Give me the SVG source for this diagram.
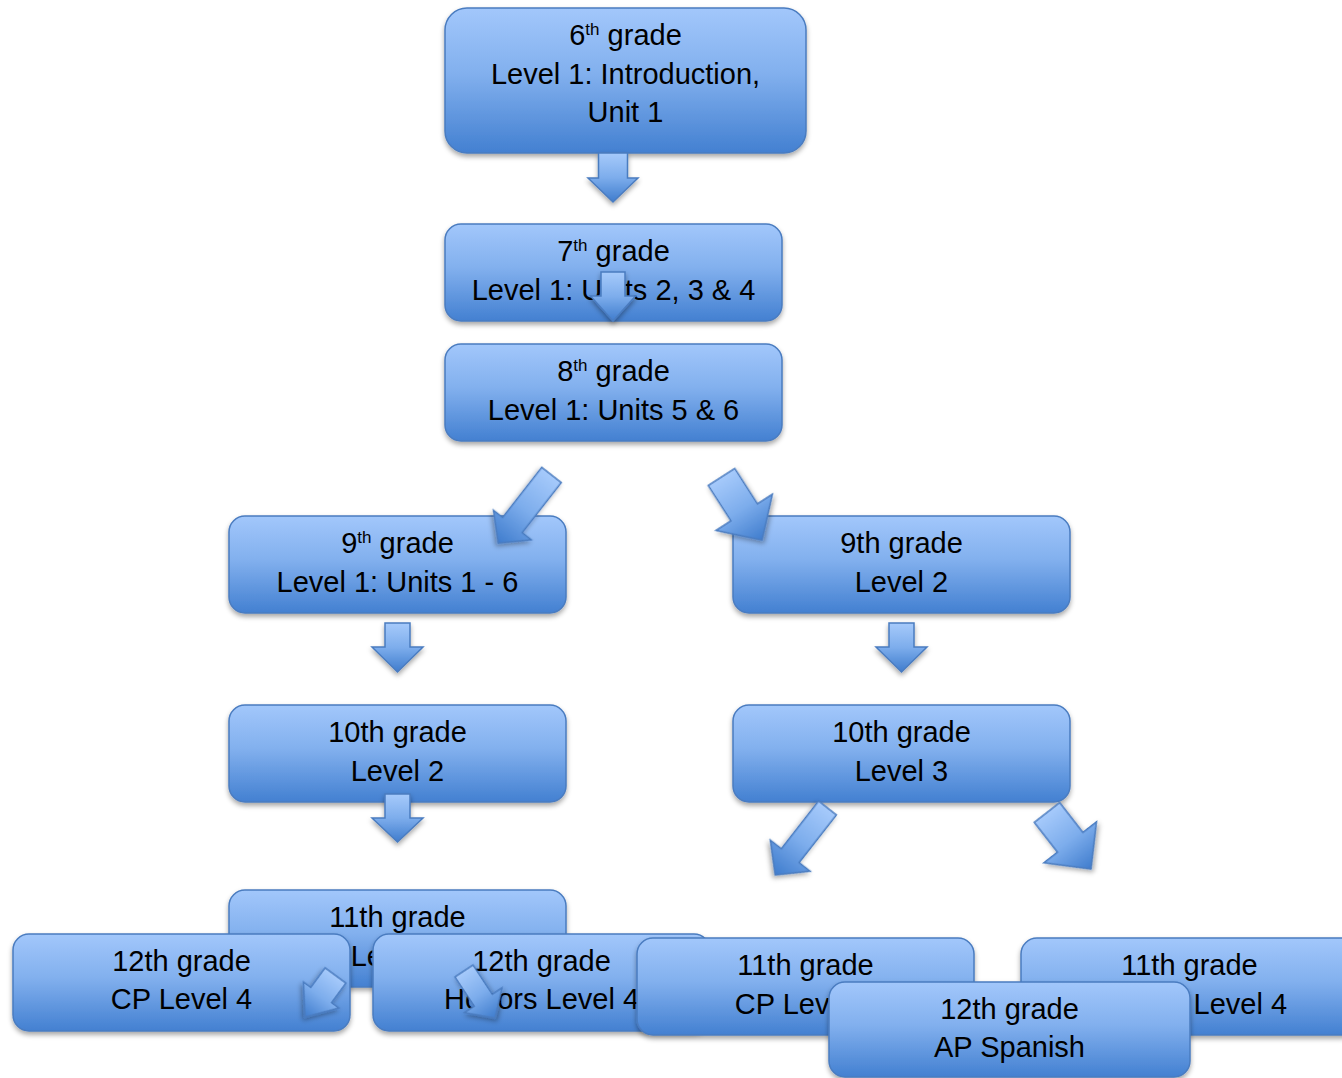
<svg xmlns="http://www.w3.org/2000/svg" width="1342" height="1078" viewBox="0 0 1342 1078">
<defs>
  <linearGradient id="boxGrad" x1="0" y1="0" x2="0" y2="1">
    <stop offset="0" stop-color="#A2C7FB"/>
    <stop offset="0.45" stop-color="#82B0EE"/>
    <stop offset="1" stop-color="#4380D1"/>
  </linearGradient>
  <linearGradient id="arrGrad" x1="0" y1="0" x2="0" y2="1">
    <stop offset="0" stop-color="#A6CAFB"/>
    <stop offset="0.5" stop-color="#7DADEC"/>
    <stop offset="1" stop-color="#3F7CCD"/>
  </linearGradient>
  <filter id="shadow" x="-10%" y="-10%" width="120%" height="130%">
    <feDropShadow dx="0" dy="3" stdDeviation="2.5" flood-color="#000" flood-opacity="0.35"/>
  </filter>
</defs>
<style>
  .box { fill: url(#boxGrad); stroke: #4A7CC0; stroke-width: 1.5; filter: url(#shadow); }
  .arr { fill: url(#arrGrad); stroke: #4A7CC0; stroke-width: 1.5; stroke-linejoin: miter; filter: url(#shadow); }
  .t { font-family: "Liberation Sans", Arial, sans-serif; font-size: 29px; fill: #000; text-anchor: middle; }
  .sup { font-size: 17px; }
</style>
<rect width="1342" height="1078" fill="#FFFFFF"/>

<g id="n6">
  <rect class="box" x="445" y="8" width="361" height="145" rx="22"/>
  <text class="t" x="625.5" y="45">6<tspan class="sup" dy="-10">th</tspan><tspan dy="10"> grade</tspan></text>
  <text class="t" x="625.5" y="84">Level 1: Introduction,</text>
  <text class="t" x="625.5" y="122">Unit 1</text>
</g>
<g id="n7">
  <rect class="box" x="445" y="224" width="337" height="97" rx="16"/>
  <text class="t" x="613.5" y="261">7<tspan class="sup" dy="-10">th</tspan><tspan dy="10"> grade</tspan></text>
  <text class="t" x="613.5" y="300">Level 1: Units 2, 3 &amp; 4</text>
</g>
<g id="n8">
  <rect class="box" x="445" y="344" width="337" height="97" rx="16"/>
  <text class="t" x="613.5" y="381">8<tspan class="sup" dy="-10">th</tspan><tspan dy="10"> grade</tspan></text>
  <text class="t" x="613.5" y="420">Level 1: Units 5 &amp; 6</text>
</g>
<g id="n9L">
  <rect class="box" x="229" y="516" width="337" height="97" rx="16"/>
  <text class="t" x="397.5" y="553">9<tspan class="sup" dy="-10">th</tspan><tspan dy="10"> grade</tspan></text>
  <text class="t" x="397.5" y="592">Level 1: Units 1 - 6</text>
</g>
<g id="n9R">
  <rect class="box" x="733" y="516" width="337" height="97" rx="16"/>
  <text class="t" x="901.5" y="553">9th grade</text>
  <text class="t" x="901.5" y="592">Level 2</text>
</g>
<g id="n10L">
  <rect class="box" x="229" y="705" width="337" height="97" rx="16"/>
  <text class="t" x="397.5" y="742">10th grade</text>
  <text class="t" x="397.5" y="781">Level 2</text>
</g>
<g id="n10R">
  <rect class="box" x="733" y="705" width="337" height="97" rx="16"/>
  <text class="t" x="901.5" y="742">10th grade</text>
  <text class="t" x="901.5" y="781">Level 3</text>
</g>
<g id="n11L">
  <rect class="box" x="229" y="890" width="337" height="97" rx="16"/>
  <text class="t" x="397.5" y="927">11th grade</text>
  <text class="t" x="397.5" y="966">Level 3</text>
</g>
<g id="n12CP">
  <rect class="box" x="13" y="934" width="337" height="97" rx="16"/>
  <text class="t" x="181.5" y="971">12th grade</text>
  <text class="t" x="181.5" y="1009">CP Level 4</text>
</g>
<g id="n12H">
  <rect class="box" x="373" y="934" width="337" height="97" rx="16"/>
  <text class="t" x="541.5" y="971">12th grade</text>
  <text class="t" x="541.5" y="1009">Honors Level 4</text>
</g>
<g id="n11CP">
  <rect class="box" x="637" y="938" width="337" height="97" rx="16"/>
  <text class="t" x="805.5" y="975">11th grade</text>
  <text class="t" x="805.5" y="1014">CP Level 4</text>
</g>
<g id="n11H">
  <rect class="box" x="1021" y="938" width="337" height="97" rx="16"/>
  <text class="t" x="1189.5" y="975">11th grade</text>
  <text class="t" x="1189.5" y="1014">Honors Level 4</text>
</g>

<g id="connectors">
  <path class="arr" transform="translate(613,153)" d="M-14.5 0 L14.5 0 L14.5 25 L25 25 L0 49 L-25 25 L-14.5 25 Z"/>
  <path class="arr" transform="translate(613,272)" d="M-12 0 L12 0 L12 24 L22.5 24 L0 49 L-22.5 24 L-12 24 Z"/>
  <path class="arr" transform="translate(551.5,475) rotate(38)" d="M-12.4 0 L12.4 0 L12.4 63.5 L24 63.5 L0 86.5 L-24 63.5 L-12.4 63.5 Z"/>
  <path class="arr" transform="translate(721.5,477) rotate(-32.7)" d="M-15.7 0 L15.7 0 L15.7 42 L33.5 42 L0 75 L-33.5 42 L-15.7 42 Z"/>
  <path class="arr" transform="translate(397.5,623)" d="M-12.5 0 L12.5 0 L12.5 24 L25.5 24 L0 49 L-25.5 24 L-12.5 24 Z"/>
  <path class="arr" transform="translate(901.5,623)" d="M-12.5 0 L12.5 0 L12.5 24 L25.5 24 L0 49 L-25.5 24 L-12.5 24 Z"/>
  <path class="arr" transform="translate(397.5,794)" d="M-12.5 0 L12.5 0 L12.5 24 L25.5 24 L0 48 L-25.5 24 L-12.5 24 Z"/>
  <path class="arr" transform="translate(827.5,808) rotate(38)" d="M-11.3 0 L11.3 0 L11.3 60.4 L25.3 60.4 L0 85 L-25.3 60.4 L-11.3 60.4 Z"/>
  <path class="arr" transform="translate(1047,812.5) rotate(-37.9)" d="M-16.1 0 L16.1 0 L16.1 37.8 L33.3 37.8 L0 71.6 L-33.3 37.8 L-16.1 37.8 Z"/>
  <path class="arr" transform="translate(335.5,975.5) rotate(36.3)" d="M-12.9 0 L12.9 0 L12.9 24.2 L22 24.2 L0 51.5 L-22 24.2 L-12.9 24.2 Z"/>
  <path class="arr" transform="translate(464,971) rotate(-33.4)" d="M-10.8 0 L10.8 0 L10.8 35 L22.5 35 L0 56.3 L-22.5 35 L-10.8 35 Z"/>
</g>

<g id="n12AP">
  <rect class="box" x="829" y="982" width="361" height="95" rx="16"/>
  <text class="t" x="1009.5" y="1019">12th grade</text>
  <text class="t" x="1009.5" y="1057">AP Spanish</text>
</g>
</svg>
